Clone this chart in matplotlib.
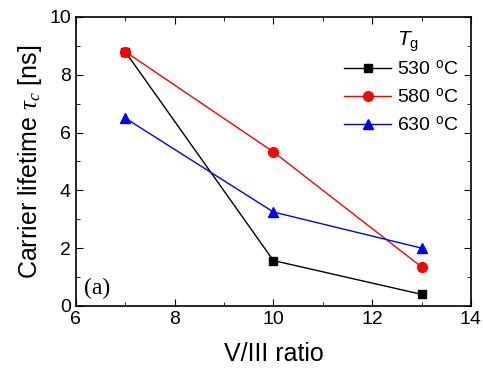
import matplotlib
matplotlib.use("Agg")
import matplotlib.pyplot as plt
from matplotlib.ticker import MultipleLocator

plt.rcParams['font.family'] = ['Liberation Sans', 'DejaVu Sans']
plt.rcParams['mathtext.fontset'] = 'custom'
plt.rcParams['mathtext.rm'] = 'Liberation Sans'
plt.rcParams['mathtext.it'] = 'Liberation Serif:italic'
plt.rcParams['mathtext.sf'] = 'Liberation Sans:italic'

x = [7, 10, 13]
labels = ['530 $^{\\rm o}$C', '580 $^{\\rm o}$C', '630 $^{\\rm o}$C']
y530 = [8.8, 1.57, 0.4]
y580 = [8.8, 5.33, 1.35]
y630 = [6.5, 3.25, 2.0]

fig = plt.figure(figsize=(4.83, 3.69), dpi=100)
ax = fig.add_axes([0.157, 0.171, 0.818, 0.783])

ax.plot(x, y530, color='black', marker='s', ms=6, lw=1, label=labels[0])
ax.plot(x, y580, color='red', marker='o', ms=7, lw=1, label=labels[1])
ax.plot(x, y630, color='blue', marker='^', ms=7.5, lw=1, label=labels[2])

ax.set_xlim(6, 14)
ax.set_ylim(0, 10)
ax.xaxis.set_major_locator(MultipleLocator(2))
ax.xaxis.set_minor_locator(MultipleLocator(1))
ax.yaxis.set_major_locator(MultipleLocator(2))
ax.yaxis.set_minor_locator(MultipleLocator(1))
ax.tick_params(which='both', direction='in', top=True, right=True, labelsize=14)
ax.tick_params(which='major', length=5)
ax.tick_params(which='minor', length=3)
for s in ax.spines.values():
    s.set_linewidth(1.2)

ax.set_xlabel('V/III ratio', fontsize=18, labelpad=10)
ax.set_ylabel('Carrier lifetime $\\tau_c$ [ns]', fontsize=18, labelpad=4)

leg = ax.legend(loc='upper left', frameon=False,
                fontsize=14, handlelength=2.4,
                bbox_to_anchor=(0.66, 0.88), borderaxespad=0.0,
                handletextpad=0.3, labelspacing=0.45)

ax.text(0.813, 0.915, '$\\mathsf{T}_{\\rm g}$', transform=ax.transAxes,
        fontsize=15, ha='left', va='center')

ax.text(0.02, 0.04, '(a)', transform=ax.transAxes, fontsize=17,
        family='Liberation Serif')

fig.savefig('out.png', dpi=100)
